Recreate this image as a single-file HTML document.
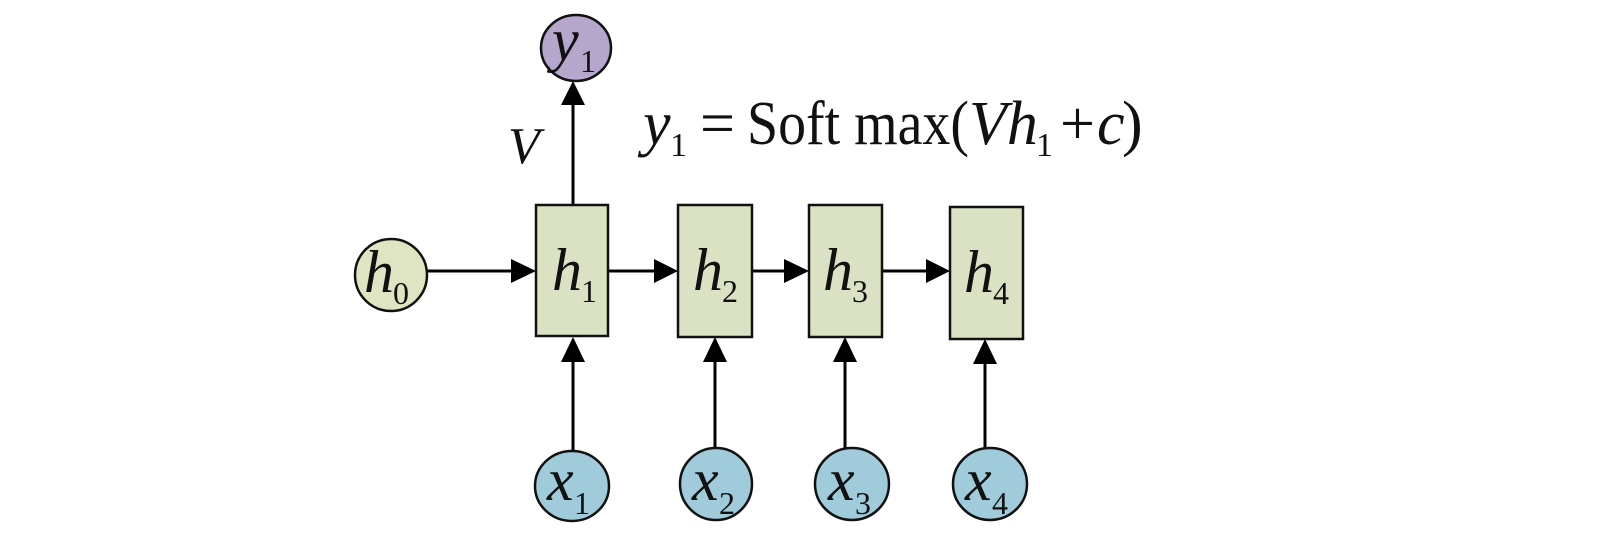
<!DOCTYPE html>
<html><head><meta charset="utf-8"><style>
html,body{margin:0;padding:0;background:#fff;}
svg{display:block;}
text{font-family:"Liberation Serif",serif;fill:#111;}
</style></head><body>
<svg width="1598" height="548" viewBox="0 0 1598 548">
<g stroke="#000" stroke-width="3" fill="none">
<line x1="428" y1="271" x2="512" y2="271"/>
<polygon points="511,259 536,271 511,283" fill="#000" stroke="none"/>
<line x1="608" y1="271" x2="656" y2="271"/>
<polygon points="654,259 678,271 654,283" fill="#000" stroke="none"/>
<line x1="752" y1="271" x2="786" y2="271"/>
<polygon points="784,259 809,271 784,283" fill="#000" stroke="none"/>
<line x1="882" y1="271" x2="928" y2="271"/>
<polygon points="926,259 950,271 926,283" fill="#000" stroke="none"/>
<line x1="573" y1="205" x2="573" y2="104"/>
<polygon points="561,105 573,81 585,105" fill="#000" stroke="none"/>
<line x1="573" y1="451" x2="573" y2="362"/>
<polygon points="561,362 573,337 585,362" fill="#000" stroke="none"/>
<line x1="715" y1="449" x2="715" y2="362"/>
<polygon points="703,362 715,337 727,362" fill="#000" stroke="none"/>
<line x1="845" y1="449" x2="845" y2="362"/>
<polygon points="833,362 845,337 857,362" fill="#000" stroke="none"/>
<line x1="985" y1="449" x2="985" y2="364"/>
<polygon points="973,364 985,339 997,364" fill="#000" stroke="none"/>
</g>
<g stroke="#111" stroke-width="2.5">
<rect x="536" y="205" width="72" height="131" fill="#dbe2c3"/>
<rect x="678" y="205" width="74" height="132" fill="#dbe2c3"/>
<rect x="809" y="205" width="73" height="132" fill="#dbe2c3"/>
<rect x="950" y="207" width="73" height="132" fill="#dbe2c3"/>
<ellipse cx="391" cy="275" rx="36" ry="36" fill="#dfe5c3"/>
<ellipse cx="576" cy="48" rx="35" ry="33" fill="#b5a7cb"/>
<ellipse cx="572" cy="486" rx="37" ry="35" fill="#9fcbdb"/>
<ellipse cx="716" cy="484" rx="36" ry="36" fill="#9fcbdb"/>
<ellipse cx="852" cy="484" rx="37" ry="36" fill="#9fcbdb"/>
<ellipse cx="990" cy="484" rx="37" ry="36" fill="#9fcbdb"/>
</g>
<g font-size="60">
<text x="364" y="292" font-style="italic">h</text><text x="393" y="304" font-size="32">0</text>
<text x="552" y="290" font-style="italic">h</text><text x="581" y="302" font-size="32">1</text>
<text x="693" y="290" font-style="italic">h</text><text x="722" y="302" font-size="32">2</text>
<text x="823" y="290" font-style="italic">h</text><text x="852" y="302" font-size="32">3</text>
<text x="964" y="292" font-style="italic">h</text><text x="993" y="304" font-size="32">4</text>
<text x="552" y="60" font-style="italic">y</text><text x="580" y="72" font-size="32">1</text>
<text x="547" y="500" font-style="italic">x</text><text x="574" y="514" font-size="32">1</text>
<text x="692" y="500" font-style="italic">x</text><text x="719" y="514" font-size="32">2</text>
<text x="828" y="500" font-style="italic">x</text><text x="855" y="514" font-size="32">3</text>
<text x="965" y="500" font-style="italic">x</text><text x="992" y="514" font-size="32">4</text>
<text x="508" y="163" font-style="italic" font-size="52">V</text>
</g>
<g font-size="62">
<text x="643" y="144" font-style="italic">y</text>
<text x="670" y="156" font-size="34">1</text>
<text x="700" y="144">=</text>
<text x="747" y="144" textLength="222" lengthAdjust="spacingAndGlyphs">Soft max(</text>
<text x="969" y="144" font-style="italic">Vh</text>
<text x="1036" y="156" font-size="34">1</text>
<text x="1060" y="144">+</text>
<text x="1097" y="144" font-style="italic">c</text>
<text x="1122" y="144">)</text>
</g>
</svg>
</body></html>
